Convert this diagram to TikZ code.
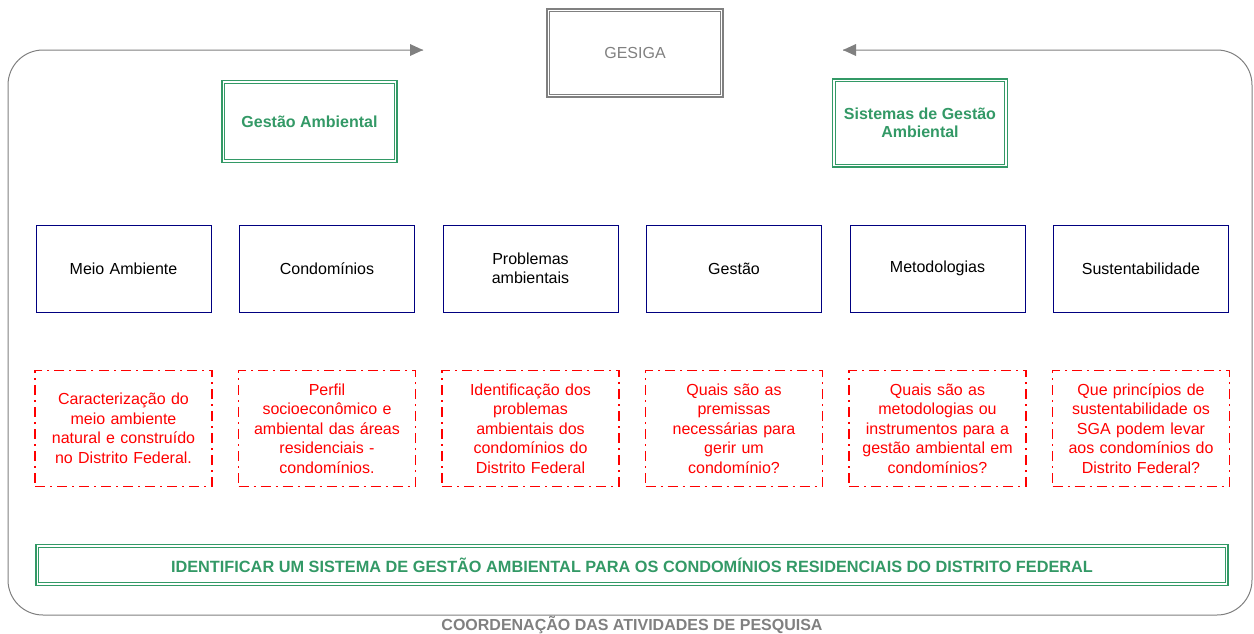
\documentclass[tikz,border=0pt]{standalone}
\usepackage{fontspec}
\setmainfont{Liberation Sans}
\usetikzlibrary{arrows.meta}
\definecolor{gr}{RGB}{51,153,102}
\definecolor{gy}{RGB}{128,128,128}
\definecolor{nv}{RGB}{0,0,128}
\begin{document}
\begin{tikzpicture}[x=1pt,y=-1pt,
  dbl/.style={draw=#1,line width=1.4pt,
    append after command={\pgfextra{\let\mynode\tikzlastnode}
      ([shift={(3.5,3.5)}]\mynode.north west) edge[draw=#1,line width=1pt,-,to path={rectangle (\tikztotarget)}] ([shift={(-3.5,-3.5)}]\mynode.south east)}},
  topbox/.style={dbl=gr,minimum width=175pt,align=center,text=gr,font=\fontsize{16}{18.5}\selectfont\bfseries},
  bluebox/.style={draw=nv,line width=1pt,minimum width=175pt,minimum height=87pt,text width=165pt,align=center,font=\fontsize{16}{19}\selectfont},
  redbox/.style={draw=red,line width=1.4pt,dash pattern=on 10pt off 5pt on 2pt off 5pt,minimum width=174pt,minimum height=116pt,text width=170pt,align=center,text=red,font=\fontsize{16}{19.5}\selectfont},
  loop/.style={draw=gy,line width=1pt}
]
\useasboundingbox (0,0) rectangle (1254,633);
% loop
\coordinate (la) at (423,50);
\coordinate (ra) at (843,50);
\draw[loop,rounded corners=35pt] (la) -- (8,50) -- (8,615) -- (1252,615) -- (1252,50) -- (ra);
\fill[gy] (la) -- ++(-13,-6) -- ++(0,12) -- cycle;
\fill[gy] (ra) -- ++(13,-6) -- ++(0,12) -- cycle;
% GESIGA
\node[dbl=gy,minimum width=176pt,minimum height=88pt,text=gy,font=\fontsize{16}{18}\selectfont] (gesiga) at (635,53) {GESIGA};
% top green boxes
\node[topbox,minimum height=82pt] (ga) at (309.5,121.5) {Gestão Ambiental};
\node[topbox,minimum height=88pt] (sga) at (920,123) {Sistemas de Gestão\\Ambiental};
% blue boxes
\node[bluebox] (b1) at (123.5,268.5) {Meio Ambiente};
\node[bluebox] (b2) at (327,268.5) {Condomínios};
\node[bluebox] (b3) at (530.5,268.5) {Problemas\\ambientais};
\node[bluebox] (b4) at (734,268.5) {Gestão};
\node[bluebox] (b5) at (937.5,268.5) {Metodologias};
\node[bluebox] (b6) at (1141,268.5) {Sustentabilidade};
% red boxes
\node[redbox] (r1) at (123.5,428.5) {Caracterização do\\meio ambiente\\natural e construído\\no Distrito Federal.};
\node[redbox] (r2) at (327,428.5) {Perfil\\socioeconômico e\\ambiental das áreas\\residenciais -\\condomínios.};
\node[redbox] (r3) at (530.5,428.5) {Identificação dos\\problemas\\ambientais dos\\condomínios do\\Distrito Federal};
\node[redbox] (r4) at (734,428.5) {Quais são as\\premissas\\necessárias para\\gerir um\\condomínio?};
\node[redbox] (r5) at (937.5,428.5) {Quais são as\\metodologias ou\\instrumentos para a\\gestão ambiental em\\condomínios?};
\node[redbox] (r6) at (1141,428.5) {Que princípios de\\sustentabilidade os\\SGA podem levar\\aos condomínios do\\Distrito Federal?};
% bottom
\node[dbl=gr,minimum width=1192pt,minimum height=41pt,text=gr,font=\fontsize{16.3}{18}\selectfont\bfseries] (goal) at (632,565) {IDENTIFICAR UM SISTEMA DE GESTÃO AMBIENTAL PARA OS CONDOMÍNIOS RESIDENCIAIS DO DISTRITO FEDERAL};
\node[text=gy,font=\fontsize{16}{18}\selectfont\bfseries] (coord) at (632,625) {COORDENAÇÃO DAS ATIVIDADES DE PESQUISA};
\end{tikzpicture}
\end{document}
